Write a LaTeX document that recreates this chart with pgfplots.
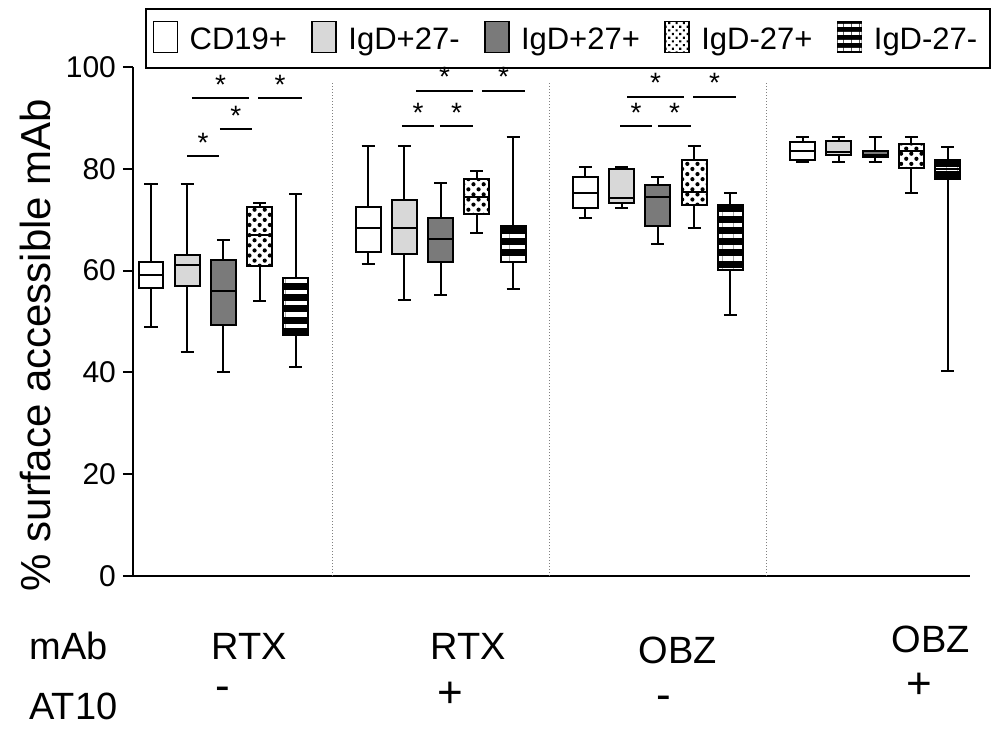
\documentclass[border=0pt]{standalone}
\usepackage{pgfplots}
\pgfplotsset{compat=1.18}
\usepackage{fontspec}
\setmainfont{Liberation Sans}
\usetikzlibrary{patterns.meta}
\definecolor{lightg}{RGB}{216,216,216}
\definecolor{darkg}{RGB}{122,122,122}
\tikzset{
  f1/.style={fill=white},
  f2/.style={fill=lightg},
  f3/.style={fill=darkg},
  f4/.style={fill=white,postaction={pattern color=black,pattern={Dots[angle=45,distance=3.6pt,radius=1.05pt]}}},
  f5/.style={fill=black,postaction={pattern color=white,pattern={Lines[angle=0,distance=5.6pt,line width=2.1pt]}}},
}
\pgfplotsset{bp/.style={black, solid, line width=1pt, mark=none}}
% one box: position, lower whisker, lower quartile, median, upper quartile, upper whisker, fill style
\newcommand{\bxp}[7]{%
  \pgfmathsetmacro\xl{#1-0.345}%
  \pgfmathsetmacro\xr{#1+0.345}%
  \pgfmathsetmacro\wl{#1-0.18}%
  \pgfmathsetmacro\wr{#1+0.18}%
  \addplot[bp] coordinates {(#1,#2) (#1,#6)};
  \addplot[bp] coordinates {(\wl,#2) (\wr,#2)};
  \addplot[bp] coordinates {(\wl,#6) (\wr,#6)};
  \addplot[bp,#7] coordinates {(\xl,#3) (\xr,#3) (\xr,#5) (\xl,#5)} -- cycle;
  \addplot[bp] coordinates {(\xl,#4) (\xr,#4)};
}
\begin{document}
\begin{tikzpicture}
\begin{axis}[
  at={(0pt,0pt)}, anchor=south west,
  scale only axis, width=418.5pt, height=254.5pt,
  xmin=-0.497, xmax=22.62, ymin=0, ymax=100,
  axis x line*=bottom, axis y line*=left,
  axis line style={line width=1pt,-},
  xtick=\empty, ytick={0,20,40,60,80,100},
  tick align=outside, major tick length=5pt,
  every tick/.style={black,line width=1pt},
  /pgf/number format/assume math mode=true,
  yticklabel style={font=\fontsize{15}{15}\selectfont},
  clip=false,
]
% separators
\draw[densely dotted, gray, line width=0.5pt] (axis cs:5,0) -- (axis cs:5,97);
\draw[densely dotted, gray, line width=0.5pt] (axis cs:11,0) -- (axis cs:11,97);
\draw[densely dotted, gray, line width=0.5pt] (axis cs:17,0) -- (axis cs:17,97);

% Group 1: RTX, AT10 -
\bxp{0}{49}{56.5}{59.1}{61.6}{77}{f1}
\bxp{1}{44}{57}{61.1}{63}{77}{f2}
\bxp{2}{40}{49.4}{56}{62}{66}{f3}
\bxp{3}{54}{60.9}{67}{72.5}{73.2}{f4}
\bxp{4}{41.1}{47.4}{52}{58.5}{75.1}{f5}
% Group 2: RTX, AT10 +
\bxp{6}{61.3}{63.7}{68.4}{72.4}{84.4}{f1}
\bxp{7}{54.2}{63.2}{68.4}{73.9}{84.4}{f2}
\bxp{8}{55.3}{61.7}{66.2}{70.4}{77.3}{f3}
\bxp{9}{67.3}{71.1}{74.4}{77.9}{79.5}{f4}
\bxp{10}{56.3}{61.7}{66}{68.8}{86.3}{f5}
% Group 3: OBZ, AT10 -
\bxp{12}{70.3}{72.3}{75.3}{78.3}{80.3}{f1}
\bxp{13}{72.3}{73.3}{74.3}{79.9}{80.3}{f2}
\bxp{14}{65.2}{68.8}{74.4}{76.8}{78.3}{f3}
\bxp{15}{68.3}{72.8}{75.4}{81.8}{84.4}{f4}
\bxp{16}{51.2}{60.1}{66}{72.8}{75.3}{f5}
% Group 4: OBZ, AT10 +
\bxp{18}{81.3}{81.7}{83.5}{85.3}{86.3}{f1}
\bxp{19}{81.3}{82.8}{83.3}{85.4}{86.3}{f2}
\bxp{20}{81.3}{82.3}{82.8}{83.4}{86.3}{f3}
\bxp{21}{75.3}{80.2}{83.5}{84.9}{86.3}{f4}
\bxp{22}{40.3}{77.9}{80}{81.8}{84.3}{f5}

% significance bars
\begin{scope}[line width=1pt, every node/.style={font=\fontsize{14}{14}\selectfont, inner sep=1pt, above=0.5pt}]
\draw (axis cs:1.13,93.9) -- node {*} (axis cs:2.71,93.9);
\draw (axis cs:2.96,93.9) -- node {*} (axis cs:4.17,93.9);
\draw (axis cs:1.90,87.8) -- node {*} (axis cs:2.79,87.8);
\draw (axis cs:1.00,82.5) -- node {*} (axis cs:1.88,82.5);
\draw (axis cs:7.32,95.3) -- node {*} (axis cs:8.90,95.3);
\draw (axis cs:9.14,95.3) -- node {*} (axis cs:10.33,95.3);
\draw (axis cs:6.93,88.4) -- node {*} (axis cs:7.82,88.4);
\draw (axis cs:7.98,88.4) -- node {*} (axis cs:8.90,88.4);
\draw (axis cs:13.15,94.2) -- node {*} (axis cs:14.72,94.2);
\draw (axis cs:14.97,94.2) -- node {*} (axis cs:16.16,94.2);
\draw (axis cs:12.96,88.4) -- node {*} (axis cs:13.84,88.4);
\draw (axis cs:14.00,88.4) -- node {*} (axis cs:14.92,88.4);
\end{scope}
\end{axis}

% legend
\begin{scope}[pat/.style={draw=black, line width=0.8pt, minimum width=12pt, minimum height=15.5pt, inner sep=0pt, anchor=west},
  txt/.style={font=\fontsize{15.5}{15.5}\selectfont, inner sep=0pt, anchor=base west}]
\node[pat,f1] (p1) at (9.85pt,269.4pt) {};
\node[txt] (t1) at ([xshift=5.5pt,yshift=-6.2pt]p1.east) {CD19+};
\node[pat,f2] (p2) at ([xshift=12pt,yshift=6.2pt]t1.base east) {};
\node[txt] (t2) at ([xshift=5.5pt,yshift=-6.2pt]p2.east) {IgD+27-};
\node[pat,f3] (p3) at ([xshift=12pt,yshift=6.2pt]t2.base east) {};
\node[txt] (t3) at ([xshift=5.5pt,yshift=-6.2pt]p3.east) {IgD+27+};
\node[pat,fill=white,postaction={pattern color=black,pattern={Dots[angle=45,distance=2.6pt,radius=0.75pt]}}] (p4) at ([xshift=12pt,yshift=6.2pt]t3.base east) {};
\node[txt] (t4) at ([xshift=5.5pt,yshift=-6.2pt]p4.east) {IgD-27+};
\node[pat,fill=black,postaction={pattern color=white,pattern={Lines[angle=0,distance=4pt,line width=1.6pt]}}] (p5) at ([xshift=12pt,yshift=6.2pt]t4.base east) {};
\node[txt] (t5) at ([xshift=5.5pt,yshift=-6.2pt]p5.east) {IgD-27-};
\draw[line width=0.7pt] (6.5pt,254pt) rectangle (428.5pt,283.5pt);
\end{scope}

\node[rotate=90, font=\fontsize{21}{21}\selectfont] at (-49pt,115.5pt) {\% surface accessible mAb};
\begin{scope}[every node/.style={font=\fontsize{19}{19}\selectfont, inner sep=0pt}]
\node[anchor=west] at (-52pt,-35pt) {mAb};
\node at (58pt,-35pt) {RTX};
\node at (167.5pt,-35pt) {RTX};
\node at (272.5pt,-37pt) {OBZ};
\node at (399pt,-31.5pt) {OBZ};
\node[anchor=west] at (-52pt,-65pt) {AT10};
\end{scope}
\begin{scope}[every node/.style={font=\fontsize{22}{22}\selectfont, inner sep=0pt, anchor=base}]
\node at (45pt,-62.4pt) {-};
\node at (158.5pt,-65.8pt) {+};
\node at (265.5pt,-66.9pt) {-};
\node at (393pt,-61.3pt) {+};
\end{scope}
\pgfresetboundingbox
\path[use as bounding box] (-66.5pt,-76.5pt) rectangle (431.5pt,288pt);
\end{tikzpicture}
\end{document}
